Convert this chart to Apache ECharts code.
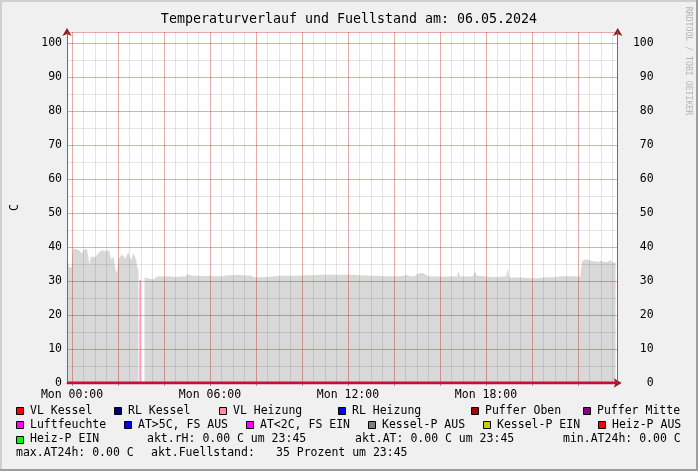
<!DOCTYPE html>
<html>
<head>
<meta charset="utf-8">
<script src="https://cdn.jsdelivr.net/npm/echarts@6/dist/echarts.min.js"></script>
<style>
  html, body { margin: 0; padding: 0; background: #f0f0f0; }
  #chart { width: 698px; height: 471px; }
</style>
</head>
<body>
<div id="chart"></div>
<script>
const MONO = 'DejaVu Sans Mono'

// hours since Mon 00:00
const xMin = -0.22
const xMax = 23.73
const yMax = 103.2

const fuellTimes = [
  -0.22, -0.16, -0.12, -0.03, 0.00, 0.04, 0.12, 0.22, 0.33, 0.43, 0.52, 0.65, 0.72, 0.75,
  0.80, 0.90, 1.00, 1.10, 1.18, 1.24, 1.33, 1.43, 1.52, 1.62, 1.70, 1.76, 1.81, 1.86,
  1.92, 1.97, 2.02, 2.10, 2.18, 2.25, 2.32, 2.38, 2.44, 2.50, 2.56, 2.62, 2.68, 2.74,
  2.79, 2.84, 2.89, 2.93,
  3.15, 3.25, 3.40, 3.55, 3.70, 3.85, 4.00, 4.25, 4.50, 4.75, 4.92, 5.00, 5.08, 5.25,
  5.50, 5.75, 6.00, 6.25, 6.50, 6.75, 7.00, 7.25, 7.50, 7.75, 7.90, 8.00, 8.25, 8.50,
  8.75, 9.00, 9.25, 9.50, 9.75, 10.00, 10.25, 10.50, 10.75, 11.00, 11.25, 11.50, 11.75,
  12.00, 12.25, 12.50, 12.75, 13.00, 13.25, 13.50, 13.75, 14.00, 14.25, 14.45, 14.55,
  14.65, 14.90, 15.05, 15.20, 15.35, 15.50, 15.75, 16.00, 16.25, 16.50, 16.75, 16.80,
  16.88, 17.00, 17.25, 17.45, 17.52, 17.60, 17.75, 18.00, 18.25, 18.50, 18.75, 18.88,
  18.95, 19.02, 19.25, 19.50, 19.75, 20.00, 20.25, 20.50, 20.75, 21.00, 21.25, 21.50,
  21.75, 21.95, 22.10, 22.18, 22.30, 22.50, 22.60, 22.75, 22.90, 23.00, 23.10, 23.30,
  23.40, 23.50, 23.64
]
const fuellValues = [
  36.7, 36.2, 34.2, 33.8, 34.0, 39.5, 39.9, 39.3, 38.8, 38.2, 39.2, 39.5, 36.5, 34.7,
  36.8, 37.3, 36.9, 37.8, 37.4, 38.8, 39.0, 38.7, 39.0, 38.8, 36.3, 36.8, 37.2, 34.5,
  32.4, 33.0, 36.6, 36.8, 37.8, 38.0, 36.5, 37.5, 38.5, 38.3, 36.2, 36.0, 38.2, 38.3,
  36.0, 34.0, 33.0, null,
  30.8, 30.9, 30.6, 30.4, 31.3, 31.4, 31.3, 31.4, 31.2, 31.3, 31.3, 31.9, 31.5, 31.5,
  31.5, 31.4, 31.5, 31.4, 31.4, 31.7, 31.7, 31.8, 31.6, 31.6, 31.2, 31.1, 31.1, 31.2,
  31.3, 31.5, 31.5, 31.5, 31.5, 31.6, 31.7, 31.7, 31.8, 31.8, 31.8, 31.8, 31.8,
  31.8, 31.8, 31.7, 31.6, 31.5, 31.5, 31.4, 31.4, 31.4, 31.4, 31.5, 31.9,
  31.4, 31.4, 32.2, 32.4, 32.0, 31.4, 31.3, 31.3, 31.3, 31.3, 31.3, 32.9,
  31.3, 31.3, 31.3, 31.4, 32.9, 31.5, 31.5, 31.3, 31.2, 31.2, 31.3, 31.4,
  33.7, 31.0, 31.0, 31.0, 30.9, 30.8, 30.8, 31.0, 31.1, 31.1, 31.4, 31.4,
  31.4, 31.3, 31.3, 35.7, 36.3, 36.2, 35.8, 35.8, 35.6, 36.0, 35.6, 35.6,
  36.2, 35.4, 35.5
]

// VL Heizung: single drop at the data gap
const vlHeizTimes = [2.96, 2.96]
const vlHeizValues = [30.3, 0]

// Heiz-P AUS sits on 0 for the whole day
const heizPTimes = [xMin, xMax]
const heizPValues = [0, 0]

const labelHours = [0, 6, 12, 18]
const majorHours = [0, 2, 4, 6, 8, 10, 12, 14, 16, 18, 20, 22]
const minorHours = []
for (let h = 0; h < 24; h += 0.5) minorHours.push(h)

const legendNames = [
  'VL Kessel', 'RL Kessel', 'VL Heizung', 'RL Heizung', 'Puffer Oben', 'Puffer Mitte',
  'Luftfeuchte', 'AT>5C, FS AUS', 'AT<2C, FS EIN', 'Kessel-P AUS', 'Kessel-P EIN', 'Heiz-P AUS',
  'Heiz-P EIN'
]
const legendColors = [
  '#ff0000', '#000066', '#ff8ca0', '#0000ff', '#aa0000', '#880088',
  '#ff00ff', '#0000ff', '#ff00ff', '#808080', '#cccc00', '#ff0000',
  '#00ff00'
]
const infoTexts = [
  'akt.rH: 0.00 C um 23:45', 'akt.AT: 0.00 C um 23:45', 'min.AT24h: 0.00 C',
  'max.AT24h: 0.00 C', 'akt.Fuellstand:', '35 Prozent um 23:45'
]

// layout of the rrdtool legend block
const legendPos = [
  [30, 411], [128, 411], [233, 411], [352, 411], [485, 411], [597, 411],
  [30, 425], [138, 425], [260, 425], [382, 425], [497, 425], [612, 425],
  [30, 439.5]
]
const infoPos = [[147, 439.5], [355, 439.5], [563, 439.5], [16, 453.5], [151, 453.5], [276, 453.5]]

const zip = (a, b) => a.map((t, i) => [t, b[i]])
const pad = (n) => String(n).padStart(2, '0')
const font = (s) => s + 'px "' + MONO + '"'

const graphics = [
  { type: 'rect', shape: { x: 0, y: 0, width: 698, height: 2 }, style: { fill: '#cfcfcf' }, silent: true },
  { type: 'rect', shape: { x: 0, y: 0, width: 2, height: 471 }, style: { fill: '#cfcfcf' }, silent: true },
  { type: 'rect', shape: { x: 0, y: 469, width: 698, height: 2 }, style: { fill: '#9e9e9e' }, silent: true },
  { type: 'rect', shape: { x: 696, y: 0, width: 2, height: 471 }, style: { fill: '#9e9e9e' }, silent: true },
  {
    type: 'text', x: 688, y: 61, rotation: -Math.PI / 2, silent: true,
    style: { text: 'RRDTOOL / TOBI OETIKER', font: font(8.2), fill: '#b4b4b4', textAlign: 'center', textVerticalAlign: 'middle' }
  }
]
legendNames.forEach((name, i) => {
  const [tx, cy] = legendPos[i]
  graphics.push({
    type: 'rect', silent: true,
    shape: { x: tx - 13.5, y: Math.round(cy) - 3.5, width: 7, height: 7 },
    style: { fill: legendColors[i], stroke: '#000', lineWidth: 1 }
  })
  graphics.push({
    type: 'text', x: tx, y: cy, silent: true,
    style: { text: name, font: font(11.5), fill: '#000', textVerticalAlign: 'middle' }
  })
})
infoTexts.forEach((t, i) => {
  graphics.push({
    type: 'text', x: infoPos[i][0], y: infoPos[i][1], silent: true,
    style: { text: t, font: font(11.5), fill: '#000', textVerticalAlign: 'middle' }
  })
})

const labelStyle = { fontFamily: MONO, fontSize: 11.5, color: '#000' }
const grayGrid = { color: 'rgba(0,0,0,0.1)', width: 1 }
const redGrid = { color: 'rgba(230,0,0,0.25)', width: 1 }
const arrowLine = {
  show: true, onZero: false, lineStyle: { color: '#8b1a1a', width: 1 },
  symbol: ['none', 'arrow'], symbolSize: [7, 8], symbolOffset: [0, 4]
}
const plainLine = { show: true, onZero: false, lineStyle: { color: '#6e6e6e', width: 1 } }
const yFmt = (v) => (v % 10 === 0 ? String(v) : '')

const chart = echarts.init(document.getElementById('chart'))
chart.setOption({
  animation: false,
  backgroundColor: '#f0f0f0',
  title: {
    text: 'Temperaturverlauf und Fuellstand am: 06.05.2024',
    left: 'center', top: 8,
    textStyle: { fontFamily: MONO, fontSize: 13.3, fontWeight: 'normal', color: '#000' }
  },
  grid: {
    left: 67, right: 80.3, top: 32, bottom: 88,
    containLabel: false, outerBoundsMode: 'none',
    backgroundColor: '#fff', show: true, borderWidth: 0
  },
  xAxis: [
    {
      type: 'value', min: xMin, max: xMax, position: 'bottom', z: 4,
      axisLine: arrowLine,
      axisTick: { show: false, customValues: minorHours },
      axisLabel: {
        ...labelStyle, margin: 6, customValues: labelHours,
        formatter: (v) => 'Mon ' + pad(v) + ':00'
      },
      splitLine: { show: true, lineStyle: grayGrid }
    },
    {
      type: 'value', min: xMin, max: xMax, position: 'bottom', z: 5,
      axisLine: { show: false, onZero: false },
      axisTick: { show: true, customValues: majorHours, length: 3, lineStyle: { color: '#999' } },
      axisLabel: { show: false },
      splitLine: { show: true, lineStyle: redGrid }
    }
  ],
  yAxis: [
    {
      type: 'value', min: 0, max: yMax, interval: 5, position: 'left', z: 4,
      axisLine: arrowLine, axisTick: { show: false }, axisLabel: { show: false },
      splitLine: { show: true, lineStyle: grayGrid }
    },
    {
      type: 'value', min: 0, max: yMax, interval: 10, position: 'left', z: 6,
      name: 'C', nameLocation: 'middle', nameGap: 46, nameRotate: 90,
      nameTextStyle: labelStyle,
      axisLine: plainLine, axisTick: { show: false },
      axisLabel: { ...labelStyle, margin: 5, padding: [3, 0, 0, 0], formatter: yFmt },
      splitLine: { show: true, lineStyle: redGrid }
    },
    {
      type: 'value', min: 0, max: yMax, interval: 10, position: 'right', z: 4,
      axisLine: arrowLine, axisTick: { show: false }, axisLabel: { show: false },
      splitLine: { show: false }
    },
    {
      type: 'value', min: 0, max: yMax, interval: 10, position: 'right', z: 6,
      axisLine: plainLine, axisTick: { show: false },
      axisLabel: { ...labelStyle, margin: 36, align: 'right', padding: [3, 0, 0, 0], formatter: yFmt },
      splitLine: { show: false }
    }
  ],
  series: [
    {
      name: 'Fuellstand', type: 'line', xAxisIndex: 0, yAxisIndex: 0,
      data: zip(fuellTimes, fuellValues), symbol: 'none', connectNulls: false,
      lineStyle: { opacity: 0 }, areaStyle: { color: '#d8d8d8', opacity: 1 }, z: 2, silent: true
    },
    {
      name: 'VL Heizung', type: 'line', xAxisIndex: 0, yAxisIndex: 0,
      data: zip(vlHeizTimes, vlHeizValues), symbol: 'none',
      lineStyle: { color: '#ff5a8c', width: 1 }, z: 7, silent: true
    },
    {
      name: 'Heiz-P AUS', type: 'line', xAxisIndex: 0, yAxisIndex: 0,
      data: zip(heizPTimes, heizPValues), symbol: 'none',
      lineStyle: { color: '#cc0a3c', width: 3 }, z: 8, silent: true
    }
  ],
  graphic: graphics
})
</script>
</body>
</html>
